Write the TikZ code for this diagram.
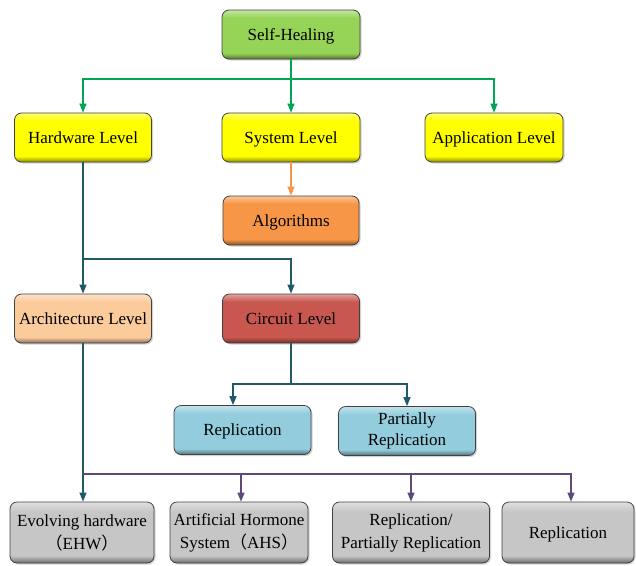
\documentclass[tikz,border=0pt]{standalone}
\usepackage{fontspec}
\setmainfont{Liberation Serif}
\newfontfamily\cjk{Noto Sans CJK SC}
\usetikzlibrary{arrows.meta,shadows}
\definecolor{lnGreen}{HTML}{00A651}
\definecolor{lnOrange}{HTML}{F79646}
\definecolor{lnTeal}{HTML}{215967}
\definecolor{lnPurple}{HTML}{5F497A}
\definecolor{cGreen}{HTML}{96D458}
\definecolor{cYellow}{HTML}{FFFF00}
\definecolor{cOrange}{HTML}{F79646}
\definecolor{cPeach}{HTML}{FBCB9C}
\definecolor{cRed}{HTML}{C8574F}
\definecolor{cBlue}{HTML}{93CDDD}
\definecolor{cGray}{HTML}{C6C6C6}
\colorlet{bevtop}{white}
\colorlet{bevmid}{gray}
\colorlet{bevbot}{black}
% bevelled fill: light rim at the top, flat body, dark rim at the bottom
\pgfdeclareverticalshading[bevtop,bevmid,bevbot]{bevel}{100bp}{%
  color(0bp)=(bevbot); color(25bp)=(bevbot); color(31bp)=(bevmid);
  color(67bp)=(bevmid); color(75bp)=(bevtop); color(100bp)=(bevtop)}
\newcommand{\fwl}{{\cjk （}}
\newcommand{\fwr}{{\cjk ）}}
\tikzset{
  x=1pt, y=-1pt,
  boxbase/.style={rounded corners=7pt, draw=black!75, line width=0.8pt,
    minimum height=49pt, align=center, inner sep=2pt,
    font=\fontsize{17}{21}\selectfont,
    /utils/exec={\colorlet{bevmid}{#1}\colorlet{bevtop}{#1!55!white}\colorlet{bevbot}{#1!55!black}},
    shading=bevel,
    drop shadow={shadow xshift=1.5pt, shadow yshift=-1.5pt, opacity=0.35}},
  oneline/.style={text height=11.5pt, text depth=0pt},
  greenbox/.style={boxbase=cGreen, oneline},
  yellowbox/.style={boxbase=cYellow, oneline},
  orangebox/.style={boxbase=cOrange, oneline},
  peachbox/.style={boxbase=cPeach, oneline},
  redbox/.style={boxbase=cRed, oneline},
  bluebox/.style={boxbase=cBlue},
  graybox/.style={boxbase=cGray, minimum height=61pt, font=\fontsize{17}{23}\selectfont},
  tip/.style={-{Triangle[length=9pt,width=7pt]}},
  greenline/.style={lnGreen, line width=1.3pt},
  orangeline/.style={lnOrange, line width=1.3pt},
  tealline/.style={lnTeal, line width=1.3pt},
  purpleline/.style={lnPurple, line width=1.3pt},
}
\begin{document}
\begin{tikzpicture}
\useasboundingbox (0,0) rectangle (636,565);

% boxes
\node[greenbox, minimum width=138pt] (heal) at (291,34.5) {Self-Healing};
\node[yellowbox, minimum width=137pt] (hw) at (83,137.5) {Hardware Level};
\node[yellowbox, minimum width=138pt] (sys) at (291,137.5) {System Level};
\node[yellowbox, minimum width=138pt] (app) at (494,137.5) {Application Level};
\node[orangebox, minimum width=136pt] (alg) at (291,220.5) {Algorithms};
\node[peachbox, minimum width=137pt] (arch) at (83,318.5) {Architecture Level};
\node[redbox, minimum width=137pt] (circ) at (291,318.5) {Circuit Level};
\node[bluebox, oneline, minimum width=137pt] (repA) at (242.5,430) {Replication};
\node[bluebox, minimum width=137pt] (part) at (407,431) {Partially\\Replication};
\node[graybox, minimum width=144pt] (ehw) at (82,532.5) {Evolving hardware\\\fwl EHW\fwr};
\node[graybox, minimum width=138pt] (ahs) at (239,532.5) {Artificial Hormone\\System\fwl AHS\fwr};
\node[graybox, minimum width=157pt] (rpr) at (411,532.5) {Replication/\\Partially Replication};
\node[graybox, oneline, minimum width=132pt] (repB) at (568,532.5) {Replication};

% junction points
\coordinate (jTop) at (291,79);
\coordinate (jHw) at (83,259);
\coordinate (jCirc) at (291,384);
\coordinate (jArch) at (83,474);

% Self-Healing -> levels
\draw[greenline] (heal.south) -- (jTop);
\draw[greenline, tip] (jTop) -| (hw.north);
\draw[greenline, tip] (jTop) -- (sys.north);
\draw[greenline, tip] (jTop) -| (app.north);

% System Level -> Algorithms
\draw[orangeline, tip] (sys.south) -- (alg.north);

% Hardware Level -> Architecture / Circuit
\draw[tealline, tip] (hw.south) -- (arch.north);
\draw[tealline, tip] (jHw) -| (circ.north);

% Circuit Level -> Replication / Partially Replication
\draw[tealline] (circ.south) -- (jCirc);
\draw[tealline, tip] (jCirc) -| ([xshift=-9.5pt]repA.north);
\draw[tealline, tip] (jCirc) -| (part.north);

% Architecture Level -> techniques
\draw[tealline, tip] (arch.south) -- ([xshift=1pt]ehw.north);
\draw[purpleline] (jArch) -- (571,474);
\draw[purpleline, tip] (jArch) -| ([xshift=2pt]ahs.north);
\draw[purpleline, tip] (jArch) -| (rpr.north);
\draw[purpleline, tip] (jArch) -| ([xshift=3pt]repB.north);
\end{tikzpicture}
\end{document}
